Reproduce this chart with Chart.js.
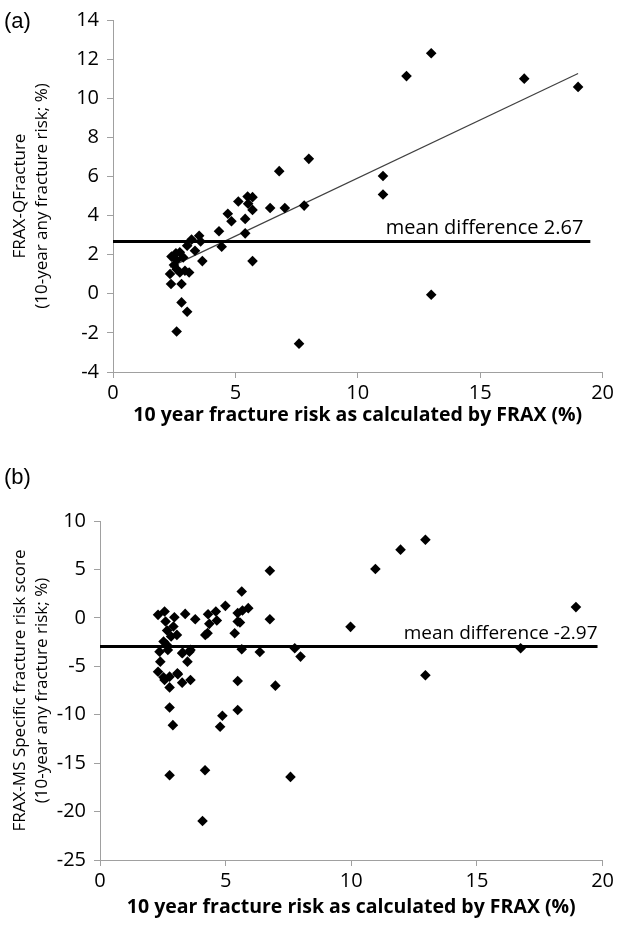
<!DOCTYPE html>
<html>
<head>
<meta charset="utf-8">
<script src="https://cdn.jsdelivr.net/npm/chart.js@4.4.0/dist/chart.umd.min.js"></script>
<style>
  body { margin: 0; background: #fff; width: 617px; height: 926px; position: relative; overflow: hidden; }
  canvas { position: absolute; left: 0; }
  .tag { position: absolute; left: 4px; font: 22px 'Liberation Sans', Arial, sans-serif; color: #000; }
</style>
</head>
<body>
<canvas id="chartA" width="617" height="440" style="top:0"></canvas>
<canvas id="chartB" width="617" height="466" style="top:460px"></canvas>
<div class="tag" style="top:8px">(a)</div>
<div class="tag" style="top:464px">(b)</div>
<script>
'use strict';

// (a) FRAX vs FRAX-QFracture difference
let fraxA = [8.0, 6.79, 5.12, 5.5, 5.7, 5.52, 5.7, 6.42, 7.02, 7.81, 4.69, 5.4, 13.0, 11.99, 16.8, 19.0,
  11.03, 11.03, 4.84, 5.4, 4.33, 4.44, 3.52, 3.21, 3.03, 3.35, 3.58, 3.65, 5.7, 2.39, 2.57, 2.73,
  2.6, 2.49, 2.6, 2.87, 2.33, 2.73, 2.94, 3.11, 2.37, 2.8, 2.8, 3.03, 2.6, 7.6, 13.0];
let diffA = [6.9, 6.27, 4.72, 4.97, 4.94, 4.6, 4.29, 4.39, 4.39, 4.51, 4.09, 3.83, 12.3, 11.13, 11.0, 10.58,
  6.02, 5.08, 3.71, 3.09, 3.2, 2.41, 2.97, 2.77, 2.46, 2.2, 2.67, 1.67, 1.67, 1.9, 2.07, 2.12,
  1.73, 1.47, 1.26, 1.86, 1.01, 1.09, 1.18, 1.09, 0.5, 0.5, -0.44, -0.92, -1.93, -2.55, -0.05];
let meanA = 2.67;
let meanLineA = [0, 19.5];
let trendSlope = 0.594;
let trendIntercept = -0.02;

// (b) FRAX vs FRAX-MS difference
let fraxB = [6.76, 6.76, 5.64, 5.9, 5.67, 5.48, 5.48, 5.57, 5.36, 5.64, 6.36, 4.99, 4.61, 4.3, 4.65, 4.35,
  4.28, 4.19, 3.79, 3.39, 3.6, 3.29, 3.48, 3.08, 2.31, 2.57, 2.96, 2.61, 2.67, 2.92, 3.06, 2.83,
  2.53, 2.66, 2.37, 2.7, 2.4, 2.31, 2.53, 2.77, 3.27, 3.56, 2.57, 3.1, 3.27, 3.6, 2.77, 5.48,
  6.98, 7.98, 7.75, 2.77, 2.9, 4.87, 4.78, 5.48, 2.77, 4.18, 7.58, 4.08, 12.95, 11.96, 10.96, 9.97,
  18.94, 12.95, 16.74];
let diffB = [4.87, -0.14, 2.72, 1.0, 0.76, 0.49, -0.38, -0.48, -1.59, -3.24, -3.52, 1.24, 0.65, 0.38, -0.28, -0.62,
  -1.58, -1.76, -0.14, 0.41, -3.31, -3.59, -4.52, -5.73, 0.31, 0.65, 0.07, -0.38, -1.31, -0.9, -1.76, -1.93,
  -2.45, -2.79, -3.49, -3.31, -4.52, -5.56, -6.14, -6.07, -3.66, -3.49, -6.42, -5.83, -6.69, -6.42, -7.18, -6.52,
  -7.0, -4.0, -3.14, -9.25, -11.08, -10.1, -11.25, -9.52, -16.25, -15.73, -16.42, -20.98, 8.07, 7.04, 5.04, -0.93,
  1.11, -5.93, -3.14];
let meanB = -2.97;
let meanLineB = [0, 19.8];

let fontName = "'Open Sans', sans-serif";
let axisGrey = '#a0a0a0';

function toPoints(xs, ys) {
  let pts = [];
  for (let i = 0; i < xs.length; i++) {
    pts.push({ x: xs[i], y: ys[i] });
  }
  return pts;
}

let meanLabel = {
  id: 'meanLabel',
  afterDatasetsDraw(chart, args, opts) {
    let ctx = chart.ctx;
    let x = chart.scales.x;
    let y = chart.scales.y;
    ctx.save();
    ctx.font = opts.size + 'px ' + fontName;
    ctx.fillStyle = '#000';
    ctx.textAlign = 'right';
    ctx.textBaseline = 'alphabetic';
    ctx.fillText(opts.text, x.getPixelForValue(opts.xEnd) - opts.inset, y.getPixelForValue(opts.value) - 8);
    ctx.restore();
  }
};

function makeChart(id, cfg) {
  let ctx = document.getElementById(id).getContext('2d');
  let datasets = [{
    label: 'points',
    data: toPoints(cfg.xs, cfg.ys),
    pointStyle: 'rectRot',
    pointRadius: 5.3,
    backgroundColor: '#000',
    borderColor: '#000',
    borderWidth: 0,
    showLine: false,
    order: 1
  }, {
    label: 'mean',
    data: cfg.meanLine.map(v => ({ x: v, y: cfg.mean })),
    showLine: true,
    borderColor: '#000',
    borderWidth: 3,
    pointRadius: 0,
    order: 2
  }];
  if (cfg.trend) {
    datasets.push({
      label: 'trend',
      data: cfg.trend,
      showLine: true,
      borderColor: '#404040',
      borderWidth: 1.2,
      pointRadius: 0,
      order: 3
    });
  }
  return new Chart(ctx, {
    type: 'scatter',
    data: { datasets: datasets },
    plugins: [meanLabel],
    options: {
      responsive: false,
      animation: false,
      layout: { padding: { top: cfg.padTop, right: cfg.padRight, left: 0, bottom: 0 } },
      plugins: {
        legend: { display: false },
        tooltip: { enabled: false },
        meanLabel: { text: cfg.meanText, value: cfg.mean, xEnd: cfg.meanLine[1], inset: cfg.inset, size: cfg.meanSize }
      },
      scales: {
        x: {
          type: 'linear',
          min: 0,
          max: 20,
          ticks: { stepSize: 5, color: '#000', padding: 3, font: { family: fontName, size: 20 } },
          grid: { drawOnChartArea: false, drawTicks: true, tickLength: 6, color: axisGrey },
          border: { color: axisGrey, width: 1 },
          title: {
            display: true,
            text: '10 year fracture risk as calculated by FRAX (%)',
            color: '#000',
            font: { family: fontName, size: 19.5, weight: 'bold' },
            padding: { top: 0, bottom: cfg.xTitlePad }
          },
          afterFit: function (scale) { scale.height = cfg.xAxisHeight; }
        },
        y: {
          type: 'linear',
          min: cfg.yMin,
          max: cfg.yMax,
          ticks: { stepSize: cfg.yStep, color: '#000', padding: 8, font: { family: fontName, size: 20 } },
          grid: { drawOnChartArea: false, drawTicks: true, tickLength: 6, color: axisGrey },
          border: { color: axisGrey, width: 1 },
          title: {
            display: true,
            text: cfg.yTitle,
            color: '#000',
            font: { family: fontName, size: 17, lineHeight: 1.3 },
            padding: { top: 9, bottom: 0 }
          },
          afterFit: function (scale) { scale.width = cfg.yAxisWidth; }
        }
      }
    }
  });
}

let minA = Math.min(...fraxA);
let maxA = Math.max(...fraxA);

makeChart('chartA', {
  xs: fraxA, ys: diffA, mean: meanA, meanLine: meanLineA,
  meanText: 'mean difference 2.67', inset: 7, meanSize: 20,
  trend: [{ x: minA, y: trendSlope * minA + trendIntercept }, { x: maxA, y: trendSlope * maxA + trendIntercept }],
  yMin: -4, yMax: 14, yStep: 2,
  yTitle: ['FRAX-QFracture', '(10-year any fracture risk; %)'],
  padTop: 20, padRight: 14, yAxisWidth: 113, xAxisHeight: 68, xTitlePad: 13
});

makeChart('chartB', {
  xs: fraxB, ys: diffB, mean: meanB, meanLine: meanLineB,
  meanText: 'mean difference -2.97', inset: 0, meanSize: 19,
  yMin: -25, yMax: 10, yStep: 5,
  yTitle: ['FRAX-MS Specific fracture risk score', '(10-year any fracture risk; %)'],
  padTop: 61, padRight: 12, yAxisWidth: 100, xAxisHeight: 66, xTitlePad: 7
});
</script>
</body>
</html>
